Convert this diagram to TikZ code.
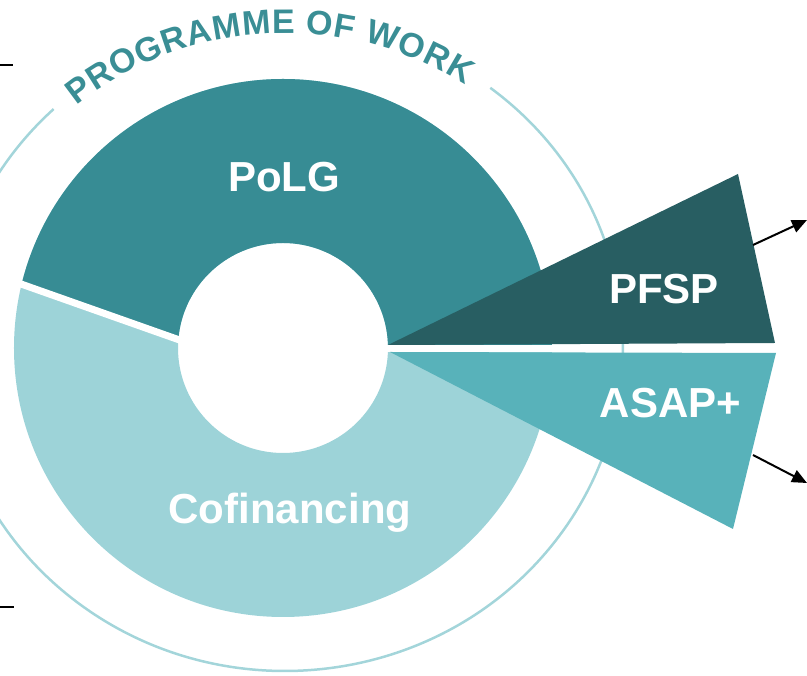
\documentclass[tikz,border=0pt]{standalone}
\usepackage{fontspec}
\setmainfont{Liberation Sans}
\usetikzlibrary{arrows.meta,decorations.text}
\definecolor{polgcol}{HTML}{378C94}
\definecolor{cofincol}{HTML}{9DD3D8}
\definecolor{pfspcol}{HTML}{285E62}
\definecolor{asapcol}{HTML}{58B2BA}
\definecolor{ringcol}{HTML}{A3D5DA}
\definecolor{titlecol}{HTML}{3A8E95}
\begin{document}
\begin{tikzpicture}[x=1pt,y=1pt,
  seglabel/.style={text=white,font=\fontsize{42}{42}\selectfont\bfseries,anchor=base,inner sep=0pt},
  stub/.style={draw=black,line width=1.5pt},
  outarrow/.style={draw=black,line width=2pt,-{Triangle[length=15pt,width=13pt]}},
  ringline/.style={draw=ringcol,line width=2.5pt},
  gapline/.style={draw=white,line width=7pt}]
\useasboundingbox (-283,-328) rectangle (524,348);

% outer ring, left open at the top for the title
\draw[ringline] (2,2) ++(52.6:338pt and 325pt)
  arc[start angle=52.6,end angle=-226.8,x radius=338pt,y radius=325pt];

% donut: cofinancing below, PoLG above the cut
\fill[cofincol,even odd rule] (0,0) circle[radius=269pt] (0,0) circle[radius=105pt];
\begin{scope}
  \clip (-300,77.4) -- (-90,2.8) -- (300,0) -- (300,300) -- (-300,300) -- cycle;
  \fill[polgcol,even odd rule] (0,0) circle[radius=269pt] (0,0) circle[radius=105pt];
\end{scope}
\draw[gapline] (-290,73.9) -- (-95,5);
\fill[white] (95,-4) rectangle (275,3);

% the two wedges
\fill[pfspcol] (105,3) -- (455,174) -- (492,5) -- cycle;
\fill[asapcol] (107,-4) -- (493,-5) -- (450,-181) -- cycle;

% segment labels
\node[seglabel] (lpolg) at (1,156) {PoLG};
\node[seglabel] (lcofin) at (7,-176) {Cofinancing};
\node[seglabel] (lpfsp) at (381,44) {PFSP};
\node[seglabel] (lasap) at (387.5,-70) {ASAP+};

% curved title
\path[decorate,decoration={text along path,text color=titlecol,text align={fit to path},
    text={|\fontsize{34}{34}\selectfont\bfseries|PROGRAMME OF WORK}}]
  (2,2) ++(129.8:326pt and 313pt)
  arc[start angle=129.8,end angle=56.5,x radius=326pt,y radius=313pt];

% outgoing arrows
\coordinate (pfspout) at (470,103);
\coordinate (pfsptip) at (524,128);
\coordinate (asapout) at (470,-107);
\coordinate (asaptip) at (524,-135);
\draw[outarrow] (pfspout) -- (pfsptip);
\draw[outarrow] (asapout) -- (asaptip);

% incoming stubs on the left
\coordinate (stubtopa) at (-283,283);
\coordinate (stubtopb) at (-270,283);
\coordinate (stubbota) at (-283,-259);
\coordinate (stubbotb) at (-269,-259);
\draw[stub] (stubtopa) -- (stubtopb);
\draw[stub] (stubbota) -- (stubbotb);
\end{tikzpicture}
\end{document}
